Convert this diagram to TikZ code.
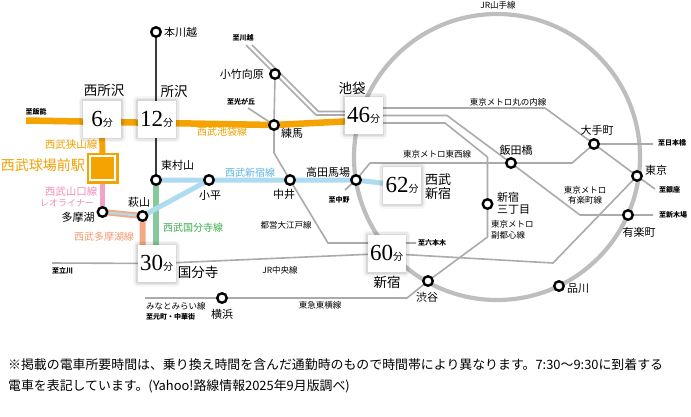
\documentclass[tikz,border=0pt]{standalone}
\usepackage{fontspec}
\setmainfont{Noto Sans CJK JP}
\newfontfamily\numfont{Liberation Serif}
\definecolor{sorange}{HTML}{F5A300}
\definecolor{spink}{HTML}{F4A3C8}
\definecolor{ssalmon}{HTML}{F5A982}
\definecolor{sgreen}{HTML}{86C99A}
\definecolor{sblue}{HTML}{AEDBF0}
\definecolor{tblue}{HTML}{5DB5DF}
\definecolor{tgreen}{HTML}{3FAE4F}
\definecolor{tsalmon}{HTML}{F29B6E}
\definecolor{tpink}{HTML}{EE8DBB}
\definecolor{torange}{HTML}{F0A000}
\definecolor{glin}{HTML}{ABABAB}
\definecolor{gring}{HTML}{BEBEBE}
\definecolor{darkl}{HTML}{3A3A3A}
\newcommand{\fs}[1]{\fontsize{#1}{#1}\selectfont}
\newcommand{\fsl}[2]{\fontsize{#1}{#2}\selectfont}
\newcommand{\tnum}[1]{{\numfont\fs{23}#1}{\fs{10}分}}
\pgfdeclarelayer{bg}
\pgfsetlayers{bg,main}
\begin{document}
\begin{tikzpicture}[x=1pt,y=-1pt,
  stn/.style={circle,draw=black,line width=2.4pt,fill=white,inner sep=0pt,minimum size=9.5pt},
  tbox/.style={fill=white,inner sep=0pt,minimum width=38pt,minimum height=37pt,
     preaction={draw=black,opacity=0.035,line width=9pt,line join=round},
     preaction={draw=black,opacity=0.05,line width=6pt,line join=round},
     preaction={draw=black,opacity=0.07,line width=3pt,line join=round}},
  gl/.style={draw=glin,line width=1.6pt,line join=round},
  lab/.style={inner sep=0pt,font=\fs{11}},
  big/.style={inner sep=0pt,font=\fs{13.5}},
  tiny/.style={inner sep=0pt,font=\fs{7}\bfseries},
  lname/.style={inner sep=0pt,font=\fs{8.5}},
  cname/.style={inner sep=0pt,font=\fs{10}},
]
\useasboundingbox (0,0) rectangle (691,416);
% stations
\node[stn] (honkawagoe) at (156,32) {};
\node[stn] (kotake) at (275,74) {};
\node[stn] (nerima) at (274,125) {};
\node[stn] (higashimurayama) at (156,180) {};
\node[stn] (kodaira) at (209,180) {};
\node[stn] (nakai) at (290,180) {};
\node[stn] (takadanobaba) at (356,180) {};
\node[stn] (hagiyama) at (142.5,216) {};
\node[stn] (tamako) at (102.5,212) {};
\node[stn] (iidabashi) at (511,163) {};
\node[stn] (otemachi) at (594,144) {};
\node[stn] (tokyo) at (637,176) {};
\node[stn] (yurakucho) at (628,215) {};
\node[stn] (shinjuku3) at (487.5,204) {};
\node[stn] (shibuya) at (428,281) {};
\node[stn] (shinagawa) at (559,286) {};
\node[stn] (yokohama) at (222,298) {};
% Seibu Kyujo-mae square
\node[draw=white,line width=1.2pt,fill=sorange,minimum width=25pt,minimum height=24pt,inner sep=0pt,
  preaction={draw=sorange,line width=7pt}] (kyujo) at (102.5,168) {};
% time boxes
\node[tbox] (b6) at (102,119) {\tnum{6}};
\node[tbox] (b12) at (156.5,119) {\tnum{12}};
\node[tbox] (b30) at (156.5,263.5) {\tnum{30}};
\node[tbox] (b46) at (363.5,115.5) {\tnum{46}};
\node[tbox] (b60) at (386.5,253.5) {\tnum{60}};
\node[tbox] (b62) at (402,185.5) {\tnum{62}};

\begin{pgfonlayer}{bg}
\fill[white] (0,0) rectangle (691,416);
\draw[gring,line width=4.2pt] (497,157) circle[radius=143];
% Tobu / Yurakucho double from Kawagoe
\draw[gl] (246,45) -- (kotake.center) -- (316,115) -- (b46.center |- 0,115);
\draw[gl] (252,45) -- (318.5,111.5) -- (b46.center |- 0,111.5);
% Seibu Yurakucho / Oedo
\draw[gl] (kotake.center) -- (nerima.center) -- (274,153) -- (nakai.center) -- (328,243) -- (b60.center |- 0,243) -- (416,243);
\draw[gl] (248,108) -- (nerima.center);
% Tozai
\draw[gl] (345,190) -- (takadanobaba.center) -- (370,163) -- (iidabashi.center) -- (572,163) -- (otemachi.center) -- (653,144);
% Marunouchi
\draw[gl] (b46.center |- 0,108) -- (545,108) -- (otemachi.center) -- (tokyo.center) -- (655,189);
% Yurakucho line
\draw[gl] (b46.center |- 0,115.5) -- (447,115.5) -- (iidabashi.center) -- (580,215) -- (yurakucho.center) -- (653,215);
% Fukutoshin / Toyoko / Minatomirai
\draw[gl] (b46.center |- 0,123) -- (445,123) -- (487.5,157) -- (shinjuku3.center) -- (487.5,237) -- (shibuya.center) -- (407,298) -- (yokohama.center) -- (145,298);
% JR Chuo
\draw[gl] (52,263) -- (b30.center) -- (b60.center) -- (553,263) -- (tokyo.center);
% Seibu lines
\draw[darkl,line width=2pt] (honkawagoe.center) -- (higashimurayama.center);
\draw[sorange,line width=6.5pt] (26,120.5) -- (nerima.center) -- (b46.center |- 0,120.5);
\draw[sorange,line width=6pt] (b6.center) -- (kyujo.center);
\draw[spink,line width=5.5pt] (kyujo.center) -- (tamako.center);
\draw[ssalmon,line width=6pt] (tamako.center) -- (hagiyama.center) -- (hagiyama.center |- b30.center);
\draw[sblue,line width=2.2pt] (tamako.center) -- (hagiyama.center);
\draw[sgreen,line width=5.5pt] (higashimurayama.center) -- (higashimurayama.center |- b30.center);
\draw[sblue,line width=5pt] (hagiyama.center) -- (kodaira.center);
\draw[sblue,line width=5pt] (higashimurayama.center) -- (kodaira.center) -- (nakai.center) -- (takadanobaba.center) -- (b62.center);
\end{pgfonlayer}

% labels
\node[inner sep=0pt,font=\fs{8.5}] (lyama) at (498,5) {JR山手線};
\node[lab,anchor=west] (lhon) at (164,32) {本川越};
\node[tiny] (lkawa) at (243,38) {至川越};
\node[lab,anchor=east] (lkot) at (264,74) {小竹向原};
\node[tiny] (lhika) at (241,102) {至光が丘};
\node[big] (lik) at (352,88) {池袋};
\node[big] (lnt) at (104,90) {西所沢};
\node[big] (ltok) at (174,91) {所沢};
\node[tiny] (lhan) at (36,112) {至飯能};
\node[cname,text=torange] (likl) at (222,132) {西武池袋線};
\node[lab] (lner) at (292,133) {練馬};
\node[lname] (lmaru) at (508,102) {東京メトロ丸の内線};
\node[lname] (ltoz) at (437,154) {東京メトロ東西線};
\node[lab] (liid) at (516,150) {飯田橋};
\node[lab] (lote) at (597,130) {大手町};
\node[tiny,anchor=west] (lnih) at (658,143) {至日本橋};
\node[lab,anchor=west] (ltky) at (645,170) {東京};
\node[tiny,anchor=west] (lgin) at (659,190) {至銀座};
\node[inner sep=0pt,align=center,font=\fsl{8.5}{10}] (lyur) at (585,195) {東京メトロ\\有楽町線};
\node[tiny,anchor=west] (lshk) at (659,215) {至新木場};
\node[lab] (lyrs) at (639,232) {有楽町};
\node[inner sep=0pt,anchor=west,align=left,font=\fsl{11}{12}] (ls3) at (497,203) {新宿\\三丁目};
\node[inner sep=0pt,anchor=west,align=left,font=\fsl{8.5}{10.5}] (lfuk) at (491,230) {東京メトロ\\副都心線};
\node[cname,text=tblue] (lssl) at (250,173) {西武新宿線};
\node[lab] (ltb) at (328,172) {高田馬場};
\node[tiny] (lnak) at (339,200) {至中野};
\node[lab] (lkod) at (210,195) {小平};
\node[lab] (lnai) at (284,194) {中井};
\node[lname] (loed) at (286,225) {都営大江戸線};
\node[inner sep=0pt,align=center,font=\fsl{13}{14}] (lsss) at (438,186.5) {西武\\新宿};
\node[tiny,anchor=west] (lrop) at (418,243) {至六本木};
\node[big] (lsnj) at (387,282) {新宿};
\node[lname] (lchu) at (280,270) {JR中央線};
\node[tiny,anchor=west] (ltac) at (52,271) {至立川};
\node[big] (lkok) at (198,272) {国分寺};
\node[lab] (lshi) at (427,297) {渋谷};
\node[lab,anchor=west] (lshn) at (567,289) {品川};
\node[lname] (ltoy) at (320,305) {東急東横線};
\node[lab] (lyok) at (222,314) {横浜};
\node[lname,anchor=west] (lmm) at (146,306) {みなとみらい線};
\node[tiny,anchor=west] (lmot) at (146,317) {至元町・中華街};
\node[inner sep=0pt,font=\fs{14},text=torange] (lkyu) at (43,165) {西武球場前駅};
\node[inner sep=0pt,font=\fs{10.5},text=torange] (lsay) at (71,145) {西武狭山線};
\node[inner sep=0pt,font=\fs{10.5},text=tpink] (lyam) at (71,192) {西武山口線};
\node[inner sep=0pt,font=\fs{9},text=tpink] (lleo) at (67,203) {レオライナー};
\node[lab] (ltmk) at (78,217) {多摩湖};
\node[cname,text=tsalmon] (ltml) at (104,237) {西武多摩湖線};
\node[lab,anchor=west] (lhmy) at (161,165) {東村山};
\node[lab] (lhag) at (139,202) {萩山};
\node[cname,text=tgreen] (lkkb) at (193,228) {西武国分寺線};
% footnote
\node[inner sep=0pt,anchor=west,font=\fs{12.9}] (note1) at (8,365) {※掲載の電車所要時間は、乗り換え時間を含んだ通勤時のもので時間帯により異なります。7:30～9:30に到着する};
\node[inner sep=0pt,anchor=west,font=\fs{12.9}] (note2) at (8,386) {電車を表記しています。(Yahoo!路線情報2025年9月版調べ)};
\end{tikzpicture}
\end{document}
